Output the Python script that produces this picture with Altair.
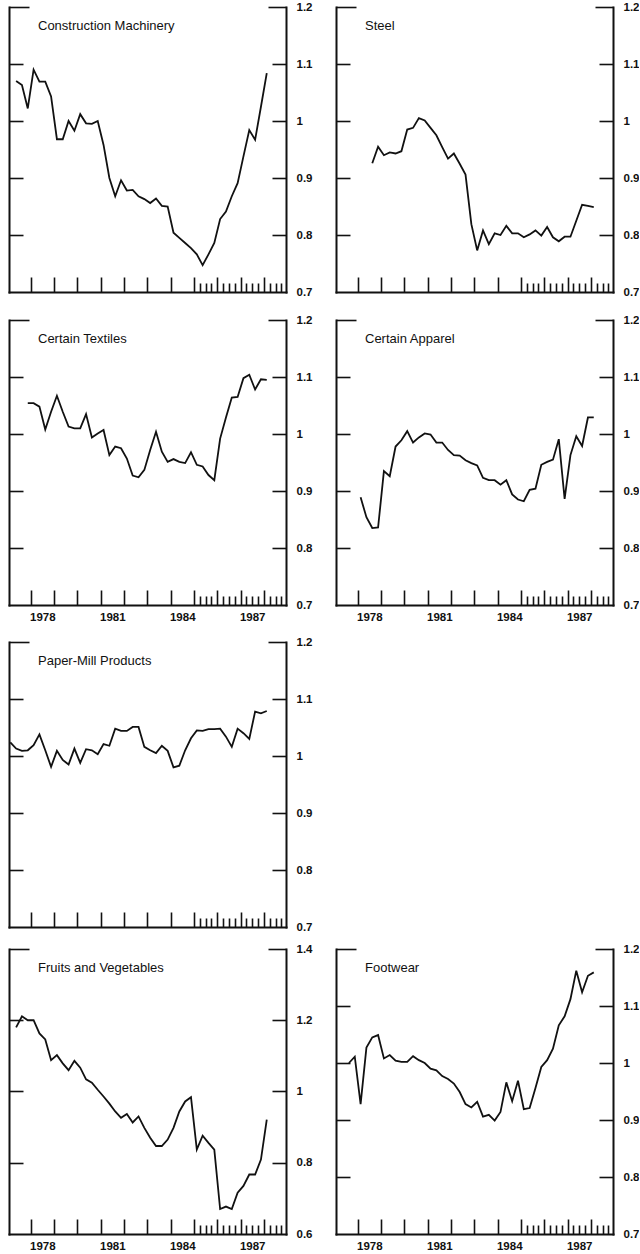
import altair as alt
import pandas as pd

FONT = "Liberation Sans"
INK = "#111111"
W, H = 277, 285
X_DOMAIN = [1977.07, 1988.95]

# ---- data: quarterly index values, with the quarter of the first observation ----
construction_start = "1977Q2"
construction = [1.070, 1.063, 1.022, 1.090, 1.069, 1.069, 1.043, 0.968, 0.968, 1.000,
                0.983, 1.012, 0.996, 0.995, 1.000, 0.958, 0.900, 0.868, 0.896, 0.878,
                0.879, 0.868, 0.863, 0.856, 0.864, 0.851, 0.850, 0.804, 0.795, 0.786,
                0.777, 0.766, 0.747, 0.766, 0.786, 0.828, 0.841, 0.868, 0.891, 0.938,
                0.984, 0.967, 1.025, 1.084]

steel_start = "1978Q3"
steel = [0.926, 0.955, 0.940, 0.945, 0.943, 0.947, 0.985, 0.988, 1.005, 1.001,
         0.988, 0.975, 0.954, 0.934, 0.943, 0.925, 0.906, 0.819, 0.773, 0.808,
         0.784, 0.803, 0.800, 0.816, 0.803, 0.803, 0.796, 0.801, 0.808, 0.799,
         0.814, 0.796, 0.789, 0.797, 0.797, 0.825, 0.853, 0.851, 0.849]

textiles_start = "1977Q4"
textiles = [1.054, 1.054, 1.048, 1.008, 1.039, 1.067, 1.039, 1.013, 1.010, 1.010,
            1.035, 0.994, 1.001, 1.007, 0.963, 0.978, 0.975, 0.957, 0.927, 0.924,
            0.937, 0.972, 1.004, 0.969, 0.951, 0.956, 0.951, 0.949, 0.968, 0.946,
            0.943, 0.928, 0.919, 0.992, 1.029, 1.064, 1.065, 1.098, 1.104, 1.078,
            1.096, 1.095]

apparel_start = "1978Q1"
apparel = [0.889, 0.854, 0.835, 0.836, 0.935, 0.926, 0.978, 0.989, 1.005, 0.985,
           0.994, 1.001, 0.999, 0.985, 0.985, 0.972, 0.963, 0.962, 0.954, 0.949,
           0.945, 0.923, 0.919, 0.919, 0.911, 0.919, 0.894, 0.885, 0.882, 0.902,
           0.904, 0.946, 0.951, 0.955, 0.991, 0.886, 0.963, 0.996, 0.979, 1.029,
           1.029]

paper_start = "1977Q1"
paper = [1.024, 1.013, 1.009, 1.010, 1.019, 1.038, 1.010, 0.981, 1.009, 0.993,
         0.985, 1.013, 0.988, 1.012, 1.010, 1.003, 1.021, 1.018, 1.048, 1.044,
         1.044, 1.051, 1.051, 1.016, 1.010, 1.005, 1.018, 1.009, 0.980, 0.983,
         1.010, 1.031, 1.045, 1.044, 1.047, 1.047, 1.048, 1.034, 1.016, 1.048,
         1.040, 1.030, 1.078, 1.075, 1.079]

fruits_start = "1977Q2"
fruits = [1.180, 1.211, 1.200, 1.200, 1.163, 1.146, 1.088, 1.102, 1.079, 1.060,
          1.086, 1.067, 1.034, 1.025, 1.005, 0.986, 0.966, 0.944, 0.926, 0.937,
          0.913, 0.930, 0.898, 0.870, 0.847, 0.847, 0.865, 0.898, 0.944, 0.972,
          0.984, 0.837, 0.876, 0.856, 0.837, 0.670, 0.677, 0.670, 0.716, 0.735,
          0.767, 0.767, 0.809, 0.921]

footwear_start = "1977Q3"
footwear = [1.000, 1.011, 0.928, 1.027, 1.045, 1.049, 1.008, 1.014, 1.004, 1.002,
            1.002, 1.012, 1.005, 1.000, 0.990, 0.987, 0.977, 0.972, 0.964, 0.949,
            0.928, 0.922, 0.932, 0.906, 0.909, 0.899, 0.914, 0.966, 0.933, 0.969,
            0.919, 0.921, 0.956, 0.993, 1.005, 1.025, 1.066, 1.082, 1.112, 1.162,
            1.124, 1.153, 1.159]

# axis values
year_ticks = [1978, 1979, 1980, 1981, 1982, 1983, 1984, 1985, 1986, 1987, 1988]
quarter_ticks = [1985.25, 1985.5, 1985.75, 1986.25, 1986.5, 1986.75,
                 1987.25, 1987.5, 1987.75, 1988.25, 1988.5, 1988.75]
year_labels = [1978.5, 1981.5, 1984.5, 1987.5]

y_std_domain = [0.7, 1.2]
y_std_labels = [0.7, 0.8, 0.9, 1.0, 1.1, 1.2]
y_std_inner = [0.8, 0.9, 1.0, 1.1]
y_fv_domain = [0.6, 1.4]
y_fv_labels = [0.6, 0.8, 1.0, 1.2, 1.4]
y_fv_inner = [0.8, 1.0, 1.2]


def quarter_mid(q):
    return int(q[:4]) + (int(q[5]) - 1) * 0.25 + 0.125


def panel(title, start, vals, ydom, ylabels, yinner, show_x, bottom_room):
    x0 = quarter_mid(start)
    df = pd.DataFrame({"t": [x0 + 0.25 * i for i in range(len(vals))], "v": vals})
    xs = alt.Scale(domain=X_DOMAIN, nice=False, zero=False)
    ys = alt.Scale(domain=ydom, nice=False, zero=False)
    top = ydom[1]

    line = alt.Chart(df).mark_line(color=INK, strokeWidth=1.8, strokeJoin="miter").encode(
        x=alt.X("t:Q", scale=xs, axis=alt.Axis(orient="top", offset=-H, values=year_ticks,
                                                tickSize=15, labels=False, title=None,
                                                domain=True, grid=False)),
        y=alt.Y("v:Q", scale=ys, axis=alt.Axis(orient="right", values=ylabels, ticks=False,
                                                labelPadding=10, format="~g", title=None,
                                                domain=True, grid=False,
                                                labelFontSize=11.5, labelFontWeight="bold",
                                                labelOverlap=False)),
    )
    minor = alt.Chart(df).mark_point(opacity=0, size=1).encode(
        x=alt.X("t:Q", scale=xs, axis=alt.Axis(orient="top", offset=-H, values=quarter_ticks,
                                                tickSize=9, labels=False, title=None,
                                                domain=False, grid=False)),
        y=alt.Y("v:Q", scale=ys, axis=alt.Axis(orient="right", offset=-W, values=yinner,
                                                tickSize=14, labels=False, title=None,
                                                domain=True, grid=False)),
    )
    if show_x:
        xlab_axis = alt.Axis(orient="bottom", values=year_labels, ticks=False, domain=False,
                             labelExpr="'' + floor(datum.value)", labelPadding=6,
                             labelFontSize=11.5, labelFontWeight="bold", title=None,
                             grid=False, labelOverlap=False, minExtent=bottom_room)
    elif bottom_room > 0:
        xlab_axis = alt.Axis(orient="bottom", values=year_labels, ticks=False, domain=False,
                             labels=False, title=None, grid=False, minExtent=bottom_room)
    else:
        xlab_axis = None
    third = alt.Chart(df).mark_point(opacity=0, size=1).encode(
        x=alt.X("t:Q", scale=xs, axis=xlab_axis),
        y=alt.Y("v:Q", scale=ys, axis=alt.Axis(orient="left", offset=-W, values=yinner,
                                                tickSize=14, labels=False, title=None,
                                                domain=False, grid=False)),
    )
    stub_l = alt.Chart(df).mark_point(opacity=0, size=1).encode(
        x=alt.X("t:Q", scale=xs, axis=None),
        y=alt.Y("v:Q", scale=ys, axis=alt.Axis(orient="right", offset=-W, values=[top],
                                                tickSize=20, labels=False, title=None,
                                                domain=False, grid=False)),
    )
    stub_r = alt.Chart(df).mark_point(opacity=0, size=1).encode(
        x=alt.X("t:Q", scale=xs, axis=None),
        y=alt.Y("v:Q", scale=ys, axis=alt.Axis(orient="left", offset=-W, values=[top],
                                                tickSize=18, labels=False, title=None,
                                                domain=False, grid=False)),
    )
    label = alt.Chart(pd.DataFrame({"name": [title]})).mark_text(
        align="left", baseline="middle", font=FONT, fontSize=13, color=INK
    ).encode(x=alt.value(29), y=alt.value(18.5), text="name:N")

    return alt.layer(line, minor, third, stub_l, stub_r, label).resolve_axis(
        x="independent", y="independent"
    ).properties(width=W, height=H)


p1 = panel("Construction Machinery", construction_start, construction,
           y_std_domain, y_std_labels, y_std_inner, False, 12)
p2 = panel("Steel", steel_start, steel, y_std_domain, y_std_labels, y_std_inner, False, 12)
p3 = panel("Certain Textiles", textiles_start, textiles,
           y_std_domain, y_std_labels, y_std_inner, True, 21)
p4 = panel("Certain Apparel", apparel_start, apparel,
           y_std_domain, y_std_labels, y_std_inner, True, 21)
p5 = panel("Paper-Mill Products", paper_start, paper,
           y_std_domain, y_std_labels, y_std_inner, False, 0)
p6 = panel("Fruits and Vegetables", fruits_start, fruits,
           y_fv_domain, y_fv_labels, y_fv_inner, True, 0)
p7 = panel("Footwear", footwear_start, footwear,
           y_std_domain, y_std_labels, y_std_inner, True, 0)

blank = alt.Chart(pd.DataFrame({"a": [0]})).mark_point(opacity=0, size=1).encode(
    x=alt.X("a:Q", axis=None), y=alt.Y("a:Q", axis=None)
).properties(width=W, height=H)

chart = alt.concat(
    p1, p2, p3, p4, p5, blank, p6, p7,
    columns=2,
    spacing={"row": 10, "column": 23},
    align={"row": "each", "column": "all"},
).properties(
    padding={"left": 6, "top": 1, "right": 0, "bottom": 0},
    background="white",
).configure_view(
    stroke=None
).configure_axis(
    labelFont=FONT, labelColor=INK, domainColor=INK, tickColor=INK,
    domainWidth=2, tickWidth=1.6, domainCap="square",
)

chart.save("out.html", embed_options={"renderer": "svg", "actions": False})
